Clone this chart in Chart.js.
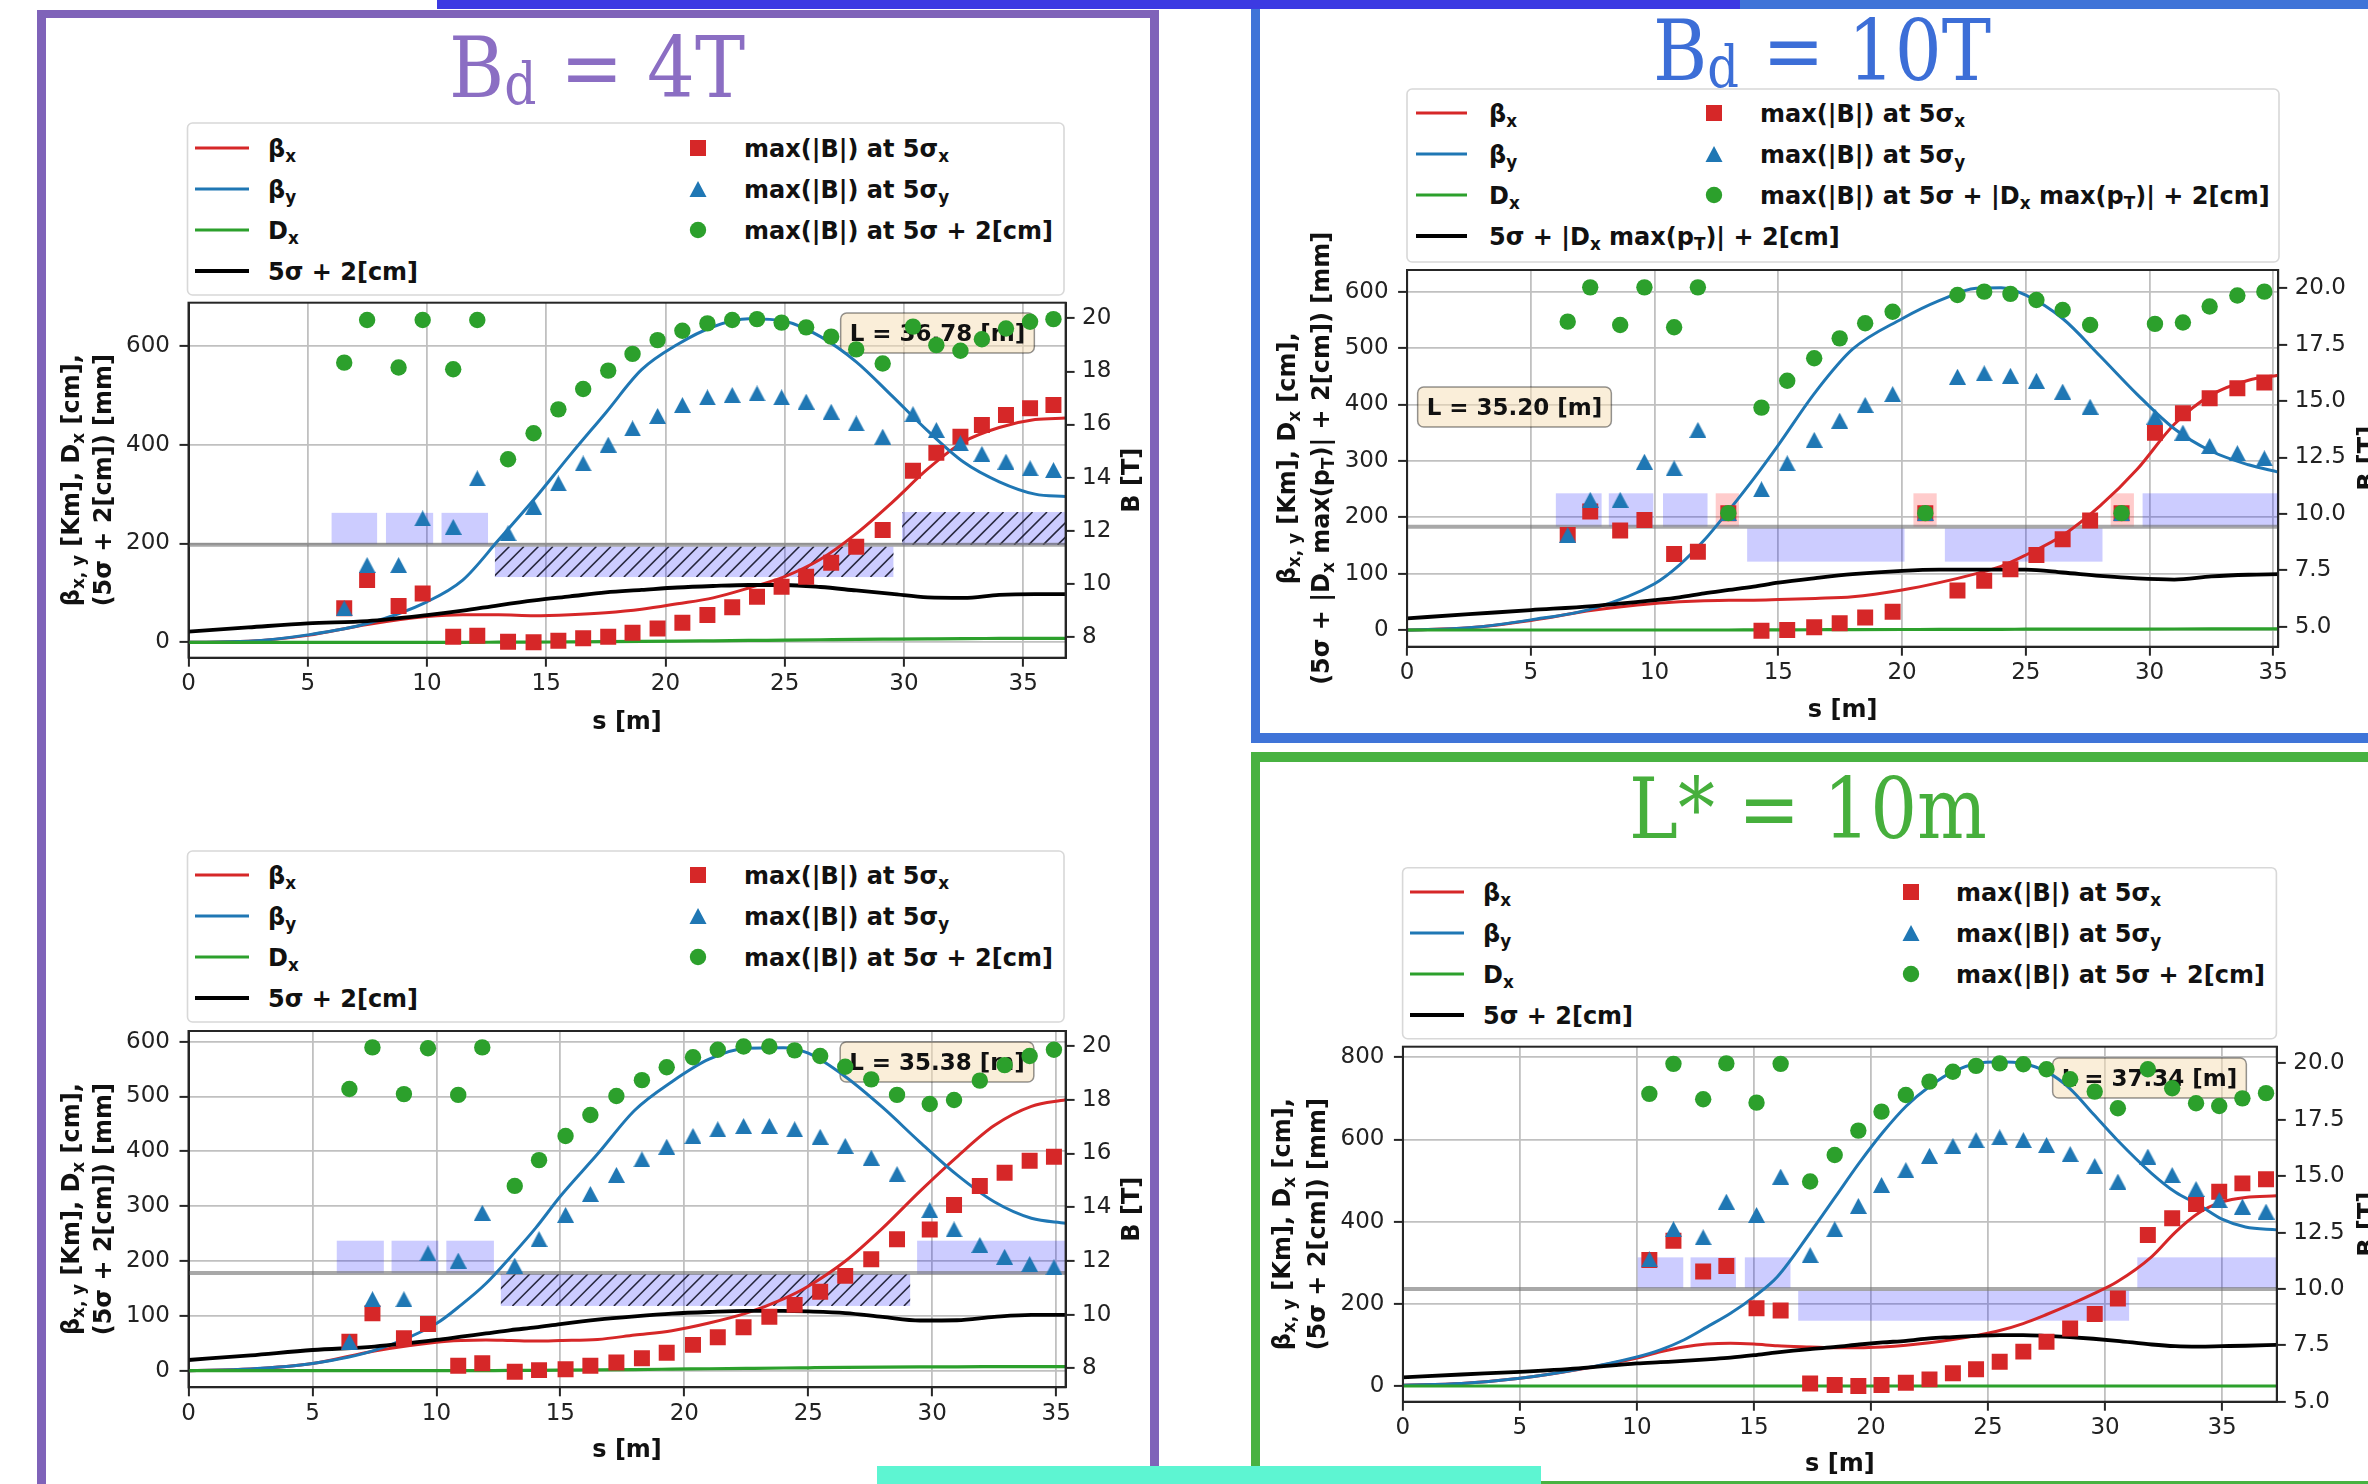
<!DOCTYPE html>
<html><head><meta charset="utf-8">
<script src="https://cdn.jsdelivr.net/npm/chart.js@4.4.1/dist/chart.umd.min.js"></script>
<style>
html,body{margin:0;padding:0;background:#fff;width:2368px;height:1484px;overflow:hidden;position:relative;}
svg{position:absolute;left:0;top:0;}
canvas{position:absolute;}
</style></head><body>
<svg id="deco" width="2368" height="1484" xmlns="http://www.w3.org/2000/svg"></svg>
<script>
// ================= DATA =================
// ---- Panel A : B_d = 4T (top-left) ----
const A_len = 36.78;
const A_s     = [0, 2.5, 5, 7.5, 10, 11.5, 13, 14.5, 16, 17.5, 19, 20.5, 22, 23.5, 25, 26.5, 28, 29.5, 31, 32.5, 34, 35.5, 36.78];
const A_betaX = [0, 2, 14, 36, 52, 56, 56, 54, 56, 60, 67, 78, 90, 110, 133, 168, 220, 283, 351, 406, 435, 451, 454];
const A_betaY = [0, 2, 15, 38, 82, 126, 207, 290, 379, 465, 552, 603, 639, 655, 650, 619, 568, 499, 428, 365, 325, 300, 295];
const A_Dx    = [0, 0, 0, 0, 0, 0, 0.2, 0.5, 0.8, 1.2, 1.7, 2.3, 3, 3.7, 4.4, 5.1, 5.8, 6.4, 7, 7.5, 7.8, 8, 8];
const A_env   = [21.5, 30, 38.5, 43, 55, 64, 75, 85, 93, 101, 106, 111, 114, 116, 116, 112, 105, 98, 91, 90, 96, 97.5, 97.5];
const A_magS  = [6.53, 7.49, 8.81, 9.82, 11.10, 12.11, 13.40, 14.47, 15.51, 16.55, 17.60, 18.62, 19.67, 20.71, 21.76, 22.80, 23.84, 24.87, 25.90, 26.95, 28.00, 29.11, 30.38, 31.36, 32.37, 33.27, 34.28, 35.29, 36.27];
const A_B5sx  = [9.07, 10.14, 9.16, 9.63, 8.00, 8.04, 7.81, 7.79, 7.85, 7.94, 8.00, 8.15, 8.31, 8.53, 8.82, 9.11, 9.51, 9.88, 10.26, 10.79, 11.39, 12.02, 14.26, 14.93, 15.54, 15.98, 16.36, 16.61, 16.73];
const A_B5sy  = [9.07, 10.70, 10.70, 12.46, 12.14, 13.97, 11.90, 12.90, 13.78, 14.53, 15.24, 15.85, 16.32, 16.73, 17.02, 17.11, 17.17, 17.02, 16.86, 16.48, 16.04, 15.54, 16.39, 15.79, 15.29, 14.89, 14.60, 14.35, 14.28];
const A_B5s2  = [18.33, 19.94, 18.15, 19.94, 18.08, 19.94, 14.69, 15.67, 16.57, 17.34, 18.03, 18.66, 19.18, 19.53, 19.81, 19.94, 19.97, 19.84, 19.66, 19.31, 18.83, 18.30, 19.69, 18.99, 18.78, 19.21, 19.62, 19.87, 19.97];
const A_boxes = [[6.00,7.91,11.49,12.67,'q'],[8.28,10.26,11.49,12.67,'q'],[10.61,12.56,11.49,12.67,'q'],[12.85,29.56,10.25,11.40,'h'],[29.92,36.78,11.46,12.70,'h']];
const A_Bmax  = 11.47;
const A_xTicks = [0, 5, 10, 15, 20, 25, 30, 35];
const A_yTicks = [0, 200, 400, 600];
const A_bTicks = [8, 10, 12, 14, 16, 18, 20];
const A_yRange = [-31.2, 687.7];
const A_bRange = [7.21, 20.59];

// ---- Panel B : B_d = 10T (top-right) ----
const B_len = 35.20;
const B_s     = [0, 2.5, 5, 7.5, 10, 11, 12, 13, 14, 15, 16.5, 18, 20, 21.5, 23, 24, 25, 26.5, 28, 29.5, 31, 32.5, 34, 35.2];
const B_betaX = [0, 4, 17, 35, 47, 50, 52, 53, 53, 54, 56, 59, 71, 84, 100, 113, 133, 168, 220, 285, 365, 417, 443, 452];
const B_betaY = [0, 4, 18, 38, 82, 115, 159, 212, 268, 328, 422, 498, 552, 584, 606, 607, 594, 552, 486, 418, 357, 317, 293, 280];
const B_Dx    = [0, 0, 0, 0, 0, 0, 0, 0, 0.2, 0.3, 0.5, 0.7, 0.9, 1, 1.2, 1.3, 1.4, 1.5, 1.6, 1.7, 1.8, 1.9, 2, 2];
const B_env   = [20.7, 28, 35.4, 42.5, 53, 58, 65, 71, 77, 84, 92, 99, 105, 107, 107, 107, 107, 102, 96, 91.5, 89.5, 95, 98, 99];
const B_magS  = [6.49, 7.40, 8.61, 9.59, 10.79, 11.75, 12.98, 14.32, 15.36, 16.45, 17.48, 18.51, 19.62, 20.94, 22.24, 23.32, 24.38, 25.43, 26.49, 27.60, 28.87, 30.22, 31.35, 32.43, 33.55, 34.64];
const B_B5sx  = [9.06, 10.10, 9.26, 9.73, 8.22, 8.32, 10.03, 4.82, 4.85, 4.97, 5.15, 5.40, 5.66, 10.03, 6.60, 7.03, 7.54, 8.18, 8.87, 9.70, 10.03, 13.60, 14.46, 15.12, 15.57, 15.82];
const B_B5sy  = [9.06, 10.62, 10.62, 12.31, 12.02, 13.72, 10.03, 11.09, 12.24, 13.28, 14.13, 14.83, 15.31, 10.03, 16.08, 16.23, 16.12, 15.90, 15.42, 14.75, 10.03, 14.31, 13.60, 13.01, 12.69, 12.46];
const B_B5s2  = [18.52, 20.04, 18.37, 20.04, 18.27, 20.04, 10.03, 14.71, 15.90, 16.90, 17.78, 18.45, 18.96, 10.03, 19.70, 19.85, 19.75, 19.48, 19.04, 18.37, 10.03, 18.42, 18.48, 19.19, 19.68, 19.85];
const B_boxes = [[6.01,7.86,9.43,10.91,'q'],[8.15,9.95,9.43,10.91,'q'],[10.34,12.14,9.43,10.91,'q'],[12.47,13.41,9.43,10.91,'p'],[13.74,20.10,7.88,9.36,'q'],[20.46,21.40,9.43,10.91,'p'],[21.73,28.10,7.88,9.36,'q'],[28.43,29.37,9.43,10.91,'p'],[29.72,35.20,9.43,10.91,'q']];
const B_Bmax  = 9.43;
const B_xTicks = [0, 5, 10, 15, 20, 25, 30, 35];
const B_yTicks = [0, 100, 200, 300, 400, 500, 600];
const B_bTicks = [5.0, 7.5, 10.0, 12.5, 15.0, 17.5, 20.0];
const B_yRange = [-29.6, 638.5];
const B_bRange = [4.11, 20.81];

// ---- Panel C : B_d = 4T (bottom-left) ----
const C_len = 35.38;
const C_s     = [0, 2.5, 5, 7.5, 10, 11, 12, 13, 14, 15, 16.5, 18, 19.5, 21, 22.5, 24, 25, 26.5, 28, 29.5, 31, 32.5, 34, 35.38];
const C_betaX = [0, 3, 13, 36, 52, 55, 56, 55, 54, 55, 57, 65, 73, 87, 105, 131, 154, 200, 260, 327, 390, 447, 482, 494];
const C_betaY = [0, 3, 13, 37, 86, 120, 159, 208, 260, 318, 395, 475, 527, 568, 588, 589, 579, 536, 480, 417, 357, 308, 278, 269];
const C_Dx    = [0, 0, 0, 0, 0, 0, 0.2, 0.4, 0.7, 1, 1.5, 2.1, 2.8, 3.5, 4.2, 4.9, 5.3, 5.9, 6.4, 6.8, 7.1, 7.3, 7.4, 7.4];
const C_env   = [19.5, 28, 37.7, 44, 56, 62, 68, 74, 79, 85, 93, 99, 104, 107, 109, 109, 108, 105, 98, 91.5, 92, 98, 101.7, 101.7];
const C_magS  = [6.49, 7.42, 8.69, 9.66, 10.88, 11.85, 13.16, 14.14, 15.21, 16.21, 17.26, 18.29, 19.29, 20.35, 21.35, 22.39, 23.43, 24.45, 25.48, 26.49, 27.54, 28.58, 29.90, 30.88, 31.92, 32.92, 33.93, 34.91];
const C_B5sx  = [8.99, 10.05, 9.12, 9.65, 8.09, 8.19, 7.87, 7.93, 7.96, 8.09, 8.21, 8.37, 8.58, 8.87, 9.15, 9.53, 9.92, 10.36, 10.85, 11.44, 12.06, 12.80, 13.17, 14.08, 14.79, 15.28, 15.73, 15.88];
const C_B5sy  = [8.99, 10.57, 10.57, 12.28, 12.01, 13.79, 11.82, 12.81, 13.71, 14.49, 15.20, 15.78, 16.25, 16.65, 16.90, 17.02, 17.02, 16.90, 16.62, 16.28, 15.84, 15.23, 13.89, 13.17, 12.59, 12.15, 11.88, 11.76];
const C_B5s2  = [18.40, 19.95, 18.21, 19.92, 18.18, 19.95, 14.79, 15.75, 16.65, 17.43, 18.14, 18.73, 19.21, 19.58, 19.86, 19.98, 19.98, 19.84, 19.63, 19.23, 18.76, 18.18, 17.84, 17.99, 18.71, 19.29, 19.63, 19.86];
const C_boxes = [[5.98,7.88,11.54,12.75,'q'],[8.19,10.08,11.54,12.75,'q'],[10.40,12.32,11.54,12.75,'q'],[12.60,29.11,10.32,11.51,'h'],[29.39,35.38,11.51,12.75,'q']];
const C_Bmax  = 11.55;
const C_xTicks = [0, 5, 10, 15, 20, 25, 30, 35];
const C_yTicks = [0, 100, 200, 300, 400, 500, 600];
const C_bTicks = [8, 10, 12, 14, 16, 18, 20];
const C_yRange = [-30.3, 619.5];
const C_bRange = [7.29, 20.56];

// ---- Panel D : L* = 10m (bottom-right) ----
const D_len = 37.34;
const D_s     = [0, 2.5, 5, 7.5, 10, 11, 12, 13, 14, 15, 16, 17.4, 18.5, 19.5, 20.5, 21.5, 22.5, 23.5, 24.5, 25.5, 26.5, 27.5, 28.5, 29.5, 30.5, 32, 33, 34, 35, 36, 37.34];
const D_betaX = [2, 6, 18.6, 40, 68, 83, 95, 102, 104, 102, 98, 95, 93, 93, 95, 99, 105, 113, 123, 135, 152, 174, 198, 224, 253, 315, 374, 421, 448, 459, 463];
const D_betaY = [2, 6, 18.6, 40.6, 71, 88, 112, 144, 177, 217, 266, 373, 462, 543, 617, 681, 729, 765, 785, 789, 785, 765, 724, 662, 600, 517, 472, 441, 406, 387, 380];
const D_Dx    = [0, 0, 0, 0, 0, 0, 0, 0, 0, 0, 0, 0, 0, 0, 0, 0, 0, 0, 0, 0, 0, 0, 0, 0, 0, 0, 0, 0, 0, 0, 0];
const D_env   = [21, 28, 34.6, 43, 55, 58, 61, 65, 69, 75, 82, 90, 95, 101, 106, 110, 116, 119, 122, 124, 124, 122, 119, 115, 110, 101, 97, 96, 97, 98, 100];
const D_magS  = [10.53, 11.56, 12.83, 13.82, 15.11, 16.14, 17.40, 18.45, 19.46, 20.45, 21.49, 22.50, 23.50, 24.49, 25.50, 26.51, 27.50, 28.51, 29.56, 30.55, 31.83, 32.87, 33.89, 34.88, 35.87, 36.88];
const D_B5sx  = [11.28, 12.14, 10.77, 11.02, 9.14, 9.04, 5.81, 5.74, 5.70, 5.74, 5.84, 5.99, 6.26, 6.44, 6.77, 7.22, 7.66, 8.25, 8.89, 9.58, 12.39, 13.13, 13.77, 14.31, 14.68, 14.86];
const D_B5sy  = [11.31, 12.65, 12.29, 13.87, 13.28, 14.98, 11.50, 12.65, 13.68, 14.61, 15.27, 15.90, 16.34, 16.60, 16.72, 16.60, 16.38, 15.98, 15.45, 14.76, 15.87, 15.05, 14.43, 13.94, 13.65, 13.43];
const D_B5s2  = [18.65, 19.98, 18.41, 20.00, 18.26, 19.98, 14.76, 15.94, 17.02, 17.86, 18.60, 19.19, 19.63, 19.89, 20.00, 19.96, 19.74, 19.30, 18.75, 18.01, 19.74, 18.90, 18.23, 18.11, 18.45, 18.68];
const D_boxes = [[10.03,11.98,10.03,11.40,'q'],[12.29,14.23,10.03,11.40,'q'],[14.61,16.56,10.03,11.40,'q'],[16.89,31.03,8.59,9.92,'q'],[31.38,37.34,10.03,11.40,'q']];
const D_Bmax  = 10.0;
const D_xTicks = [0, 5, 10, 15, 20, 25, 30, 35];
const D_yTicks = [0, 200, 400, 600, 800];
const D_bTicks = [5.0, 7.5, 10.0, 12.5, 15.0, 17.5, 20.0];
const D_yRange = [-38.2, 825.8];
const D_bRange = [5.0, 20.74];

// ================= TEXTS =================
const TITLE_A = 'B_{d} = 4T', TITLE_B = 'B_{d} = 10T', TITLE_D = 'L* = 10m';
const YT_STD = ['β_{x, y} [Km], D_{x} [cm],', '(5σ + 2[cm]) [mm]'];
const YT_B   = ['β_{x, y} [Km], D_{x} [cm],', '(5σ + |D_{x} max(p_{T})| + 2[cm]) [mm]'];
const LEG_LEFT_STD  = ['β_{x}', 'β_{y}', 'D_{x}', '5σ + 2[cm]'];
const LEG_RIGHT_STD = ['max(|B|) at 5σ_{x}', 'max(|B|) at 5σ_{y}', 'max(|B|) at 5σ + 2[cm]'];
const LEG_LEFT_B    = ['β_{x}', 'β_{y}', 'D_{x}', '5σ + |D_{x} max(p_{T})| + 2[cm]'];
const LEG_RIGHT_B   = ['max(|B|) at 5σ_{x}', 'max(|B|) at 5σ_{y}', 'max(|B|) at 5σ + |D_{x} max(p_{T})| + 2[cm]'];

// ================= STYLE / LAYOUT =================
const COL = {bx:'#d62728', by:'#1f77b4', dx:'#2ca02c', env:'#000000'};
const LW  = {bx:3.0, by:3.0, dx:3.2, env:3.8};
const LAYOUT = {
  A:{canvas:[46,270,1104,466],  plot:[188.5,302.7,1065.6,657.7], ytx:[70,102],    rtx:1130, xty:720,  lbox:[937.5,333]},
  B:{canvas:[1260,200,1108,530],plot:[1407.1,270,2278.2,646.7],  ytx:[1286,1320], rtx:2366, xty:708,  lbox:[1514.5,407]},
  C:{canvas:[46,1000,1104,484], plot:[188.5,1031,1065.6,1387.3], ytx:[70,102],    rtx:1130, xty:1448, lbox:[937,1062]},
  D:{canvas:[1260,1020,1108,464],plot:[1402.9,1046.7,2276.8,1401.7],ytx:[1281,1316],rtx:2366, xty:1462, lbox:[2149.5,1078]}
};
const LEGL = {
  A:{box:[187.5,123,876.5,172], rows:[148,189,230,271], h:[195,249], tx:268, mx:698, tx2:744},
  B:{box:[1407,89,872,173],     rows:[113,154,195,236], h:[1416,1467], tx:1489, mx:1714, tx2:1760},
  C:{box:[187.5,851,876.5,171], rows:[875,916,957,998], h:[195,249], tx:268, mx:698, tx2:744},
  D:{box:[1402.6,867.7,873.8,171], rows:[892,933,974,1015], h:[1410,1464], tx:1483, mx:1911, tx2:1956}
};

// ================= HELPERS =================
function parseRich(str){
  const out=[]; let buf=''; let i=0;
  while(i<str.length){
    if((str[i]==='_'||str[i]==='^') && str[i+1]==='{'){
      if(buf){out.push({t:buf,sub:0});buf='';}
      const j=str.indexOf('}',i);
      out.push({t:str.slice(i+2,j),sub:str[i]==='_'?1:-1});
      i=j+1;
    } else {buf+=str[i];i++;}
  }
  if(buf) out.push({t:buf,sub:0});
  return out;
}
function esc(s){return s.replace(/&/g,'&amp;').replace(/</g,'&lt;').replace(/>/g,'&gt;');}
function richSVG(str,x,y,size,attrs){
  const segs=parseRich(str);
  let o=`<text x="${x}" y="${y}" font-size="${size}" style="white-space:pre" ${attrs}>`;
  let shift=0;
  for(const s of segs){
    const target = s.sub===1 ? +(size*0.22).toFixed(2) : 0;
    const dy = +(target-shift).toFixed(2); shift=target;
    o+=`<tspan dy="${dy}"${s.sub?` font-size="${(size*0.7).toFixed(1)}"`:''}>${esc(s.t)}</tspan>`;
  }
  return o+'</text>';
}
function drawRich(ctx,str,cx,cy,size,rot){
  const segs=parseRich(str);
  const fm=`bold ${size}px "DejaVu Sans"`, fs=`bold ${(size*0.7).toFixed(1)}px "DejaVu Sans"`;
  let total=0;
  for(const s of segs){ctx.font=s.sub?fs:fm; s.w=ctx.measureText(s.t).width; total+=s.w;}
  ctx.save(); ctx.translate(cx,cy); ctx.rotate(rot);
  ctx.textAlign='left'; ctx.textBaseline='alphabetic'; ctx.fillStyle='#111';
  let x=-total/2; const base=size*0.36;
  for(const s of segs){ctx.font=s.sub?fs:fm; ctx.fillText(s.t,x,base+(s.sub?size*0.22:0)); x+=s.w;}
  ctx.restore();
}

// ================= SVG DECORATION =================
(function(){
  let s='';
  const purple='#7f63b9', blue='#3f74d8', green='#48b241';
  s+=`<rect x="37" y="10" width="9" height="1480" fill="${purple}"/>`;
  s+=`<rect x="1150" y="10" width="9" height="1480" fill="${purple}"/>`;
  s+=`<rect x="37" y="10" width="1122" height="8" fill="${purple}"/>`;
  s+=`<rect x="1251" y="0" width="1117" height="9" fill="${blue}"/>`;
  s+=`<rect x="1251" y="0" width="9" height="743" fill="${blue}"/>`;
  s+=`<rect x="1251" y="733" width="1117" height="10" fill="${blue}"/>`;
  s+=`<rect x="437" y="0" width="1303" height="9" fill="#3c3ae2"/>`;
  s+=`<rect x="1251" y="752" width="1117" height="10" fill="${green}"/>`;
  s+=`<rect x="1251" y="752" width="9" height="732" fill="${green}"/>`;
  s+=`<rect x="1251" y="1481" width="1117" height="3" fill="${green}"/>`;
  // titles
  const tt=(str,x,y,len,col)=>{
    const segs=parseRich(str); let o=`<text x="${x}" y="${y}" text-anchor="middle" font-family="DejaVu Serif" font-size="85" fill="${col}" textLength="${len}" lengthAdjust="spacingAndGlyphs" style="white-space:pre">`;
    let sh=0; for(const g of segs){const tg=g.sub?7:0; o+=`<tspan dy="${tg-sh}"${g.sub?' font-size="57"':''}>${esc(g.t)}</tspan>`; sh=tg;}
    return o+'</text>';
  };
  s+=tt(TITLE_A,597,97,296,'#8b6ec3');
  s+=tt(TITLE_B,1822,80,338,'#3c6ed7');
  s+=tt(TITLE_D,1808,838,358,'#46af3c');
  // legends
  const legend=(L,left,right)=>{
    let o='';
    const [bx,by,bw,bh]=L.box;
    o+=`<rect x="${bx}" y="${by}" width="${bw}" height="${bh}" rx="5" fill="#fff" stroke="#d8d8d8" stroke-width="1.6"/>`;
    const lc=[COL.bx,COL.by,COL.dx,COL.env], lw=[LW.bx,LW.by,LW.dx,LW.env];
    const ta='font-family="DejaVu Sans" font-weight="bold" fill="#111"';
    left.forEach((t,i)=>{
      const y=L.rows[i];
      o+=`<line x1="${L.h[0]}" y1="${y}" x2="${L.h[1]}" y2="${y}" stroke="${lc[i]}" stroke-width="${lw[i]}"/>`;
      o+=richSVG(t,L.tx,y+8.5,24,ta);
    });
    right.forEach((t,i)=>{
      const y=L.rows[i], m=L.mx;
      if(i===0) o+=`<rect x="${m-8}" y="${y-8}" width="16" height="16" fill="${COL.bx}"/>`;
      if(i===1) o+=`<polygon points="${m-8.5},${y+8} ${m},${y-8} ${m+8.5},${y+8}" fill="${COL.by}"/>`;
      if(i===2) o+=`<circle cx="${m}" cy="${y}" r="8.2" fill="${COL.dx}"/>`;
      o+=richSVG(t,L.tx2,y+8.5,24,ta);
    });
    return o;
  };
  s+=legend(LEGL.A,LEG_LEFT_STD,LEG_RIGHT_STD);
  s+=legend(LEGL.B,LEG_LEFT_B,LEG_RIGHT_B);
  s+=legend(LEGL.C,LEG_LEFT_STD,LEG_RIGHT_STD);
  s+=legend(LEGL.D,LEG_LEFT_STD,LEG_RIGHT_STD);
  s+=`<rect x="877" y="1466" width="664" height="18" fill="#5df5d2"/>`;
  document.getElementById('deco').innerHTML=s;
})();

// ================= CHARTS =================
Chart.defaults.font.family='"DejaVu Sans", sans-serif';
const triImg=(()=>{const c=document.createElement('canvas');c.width=17;c.height=16;const g=c.getContext('2d');g.fillStyle=COL.by;g.beginPath();g.moveTo(0,16);g.lineTo(8.5,0);g.lineTo(17,16);g.closePath();g.fill();return c;})();

function buildChart(key,D,Lo){
  const [cx,cy,cw,ch]=Lo.canvas, [pl,pt,pr,pb]=Lo.plot;
  const cv=document.createElement('canvas');
  cv.width=cw; cv.height=ch;
  Object.assign(cv.style,{left:cx+'px',top:cy+'px',width:cw+'px',height:ch+'px'});
  document.body.appendChild(cv);
  const pts=(xs,ys)=>xs.map((x,i)=>({x,y:ys[i]}));
  const lineDs=(ys,c,w,order,label)=>({label,data:pts(D.s,ys),borderColor:c,backgroundColor:c,borderWidth:w,pointRadius:0,fill:false,cubicInterpolationMode:'monotone',yAxisID:'y',order});
  const markDs=(ys,style,c,r,order,label)=>({label,showLine:false,data:pts(D.magS,ys),pointStyle:style,pointRadius:r,pointHoverRadius:r,pointBackgroundColor:c,pointBorderColor:c,pointBorderWidth:0,yAxisID:'y2',order,clip:0});
  const datasets=[
    {label:'Bmax',data:[{x:0,y:D.Bmax},{x:D.len,y:D.Bmax}],borderColor:'rgba(115,115,115,0.62)',borderWidth:4,pointRadius:0,yAxisID:'y2',order:30},
    lineDs(D.betaX,COL.bx,LW.bx,14,'βx'),
    lineDs(D.betaY,COL.by,LW.by,13,'βy'),
    lineDs(D.Dx,COL.dx,LW.dx,12,'Dx'),
    lineDs(D.env,COL.env,LW.env,11,'env'),
    markDs(D.B5sx,'rect',COL.bx,11.3,3,'5σx'),
    markDs(D.B5sy,triImg,COL.by,9,2,'5σy'),
    markDs(D.B5s2,'circle',COL.dx,8.2,1,'5σ2'),
  ];
  const tickFont={family:'DejaVu Sans',size:23};
  const grid={color:'#c0c0c0',lineWidth:1.8,drawTicks:true,tickLength:9,tickColor:'#262626',tickWidth:2};
  const border={display:true,color:'#262626',width:2};
  const deco={
    id:'deco'+key,
    beforeDatasetsDraw(chart){
      const {ctx,chartArea:a,scales:{x,y2}}=chart;
      ctx.save();
      ctx.beginPath(); ctx.rect(a.left,a.top,a.right-a.left,a.bottom-a.top); ctx.clip();
      for(const [s0,s1,b0,b1,k] of D.boxes){
        const X0=x.getPixelForValue(s0), X1=x.getPixelForValue(s1);
        const Y0=y2.getPixelForValue(b1), Y1=y2.getPixelForValue(b0);
        ctx.fillStyle=k==='p'?'rgba(255,0,0,0.2)':'rgba(0,0,255,0.2)';
        ctx.fillRect(X0,Y0,X1-X0,Y1-Y0);
        if(k==='h'){
          ctx.save(); ctx.beginPath(); ctx.rect(X0,Y0,X1-X0,Y1-Y0); ctx.clip();
          ctx.strokeStyle='rgba(20,20,40,0.9)'; ctx.lineWidth=1.6;
          const sp=14.5, h=Y1-Y0;
          for(let xx=X0-h; xx<X1+sp; xx+=sp){ctx.beginPath();ctx.moveTo(xx,Y1);ctx.lineTo(xx+h,Y0);ctx.stroke();}
          ctx.restore();
        }
      }
      ctx.restore();
      // L annotation box
      ctx.save();
      ctx.font='bold 23px "DejaVu Sans"';
      const tw=ctx.measureText(D.Ltext).width, bw=tw+18, bh=40;
      const lx=Lo.lbox[0]-cx, ly=Lo.lbox[1]-cy;
      ctx.beginPath(); ctx.roundRect(lx-bw/2,ly-bh/2,bw,bh,6);
      ctx.fillStyle='rgba(245,222,179,0.5)'; ctx.fill();
      ctx.strokeStyle='rgba(0,0,0,0.42)'; ctx.lineWidth=1.5; ctx.stroke();
      ctx.fillStyle='#111'; ctx.textAlign='center'; ctx.textBaseline='alphabetic';
      ctx.fillText(D.Ltext,lx,ly+8.3);
      ctx.restore();
    },
    afterDatasetsDraw(chart){
      const {ctx,chartArea:a}=chart;
      ctx.save(); ctx.strokeStyle='#262626'; ctx.lineWidth=2;
      ctx.strokeRect(a.left,a.top,a.right-a.left,a.bottom-a.top); ctx.restore();
    },
    afterDraw(chart){
      const ctx=chart.ctx;
      const midY=(pt+pb)/2-cy, midX=(pl+pr)/2-cx;
      drawRich(ctx,D.yTitle[0],Lo.ytx[0]-cx,midY,24,-Math.PI/2);
      drawRich(ctx,D.yTitle[1],Lo.ytx[1]-cx,midY,24,-Math.PI/2);
      drawRich(ctx,'B [T]',Lo.rtx-cx,midY,24,-Math.PI/2);
      drawRich(ctx,'s [m]',midX,Lo.xty-cy,24,0);
    }
  };
  return new Chart(cv,{
    type:'line',
    data:{datasets},
    options:{
      responsive:false, animation:false, devicePixelRatio:1, events:[],
      layout:{padding:{left:0,right:0,top:pt-cy,bottom:0},autoPadding:false},
      plugins:{legend:{display:false},tooltip:{enabled:false},title:{display:false}},
      scales:{
        x:{type:'linear',position:'bottom',min:0,max:D.len,
          afterBuildTicks:sc=>{sc.ticks=D.xTicks.map(v=>({value:v}));},
          afterFit:sc=>{sc.height=(cy+ch)-pb;},
          ticks:{font:tickFont,color:'#222',padding:4,maxRotation:0,minRotation:0,autoSkip:false,callback:v=>String(v)},
          grid, border},
        y:{type:'linear',axis:'y',position:'left',min:D.yRange[0],max:D.yRange[1],
          afterBuildTicks:sc=>{sc.ticks=D.yTicks.map(v=>({value:v}));},
          afterFit:sc=>{sc.width=pl-cx;},
          ticks:{font:tickFont,color:'#222',padding:9.5,autoSkip:false,callback:v=>String(v)},
          grid, border},
        y2:{type:'linear',axis:'y',position:'right',min:D.bRange[0],max:D.bRange[1],
          afterBuildTicks:sc=>{sc.ticks=D.bTicks.map(v=>({value:v}));},
          afterFit:sc=>{sc.width=(cx+cw)-pr;},
          ticks:{font:tickFont,color:'#222',padding:7.5,autoSkip:false,callback:v=>v.toFixed(D.bDec)},
          grid:{...grid,drawOnChartArea:false}, border}
      }
    },
    plugins:[deco]
  });
}

buildChart('A',{len:A_len,s:A_s,betaX:A_betaX,betaY:A_betaY,Dx:A_Dx,env:A_env,magS:A_magS,B5sx:A_B5sx,B5sy:A_B5sy,B5s2:A_B5s2,boxes:A_boxes,Bmax:A_Bmax,xTicks:A_xTicks,yTicks:A_yTicks,bTicks:A_bTicks,yRange:A_yRange,bRange:A_bRange,bDec:0,Ltext:'L = 36.78 [m]',yTitle:YT_STD},LAYOUT.A);
buildChart('B',{len:B_len,s:B_s,betaX:B_betaX,betaY:B_betaY,Dx:B_Dx,env:B_env,magS:B_magS,B5sx:B_B5sx,B5sy:B_B5sy,B5s2:B_B5s2,boxes:B_boxes,Bmax:B_Bmax,xTicks:B_xTicks,yTicks:B_yTicks,bTicks:B_bTicks,yRange:B_yRange,bRange:B_bRange,bDec:1,Ltext:'L = 35.20 [m]',yTitle:YT_B},LAYOUT.B);
buildChart('C',{len:C_len,s:C_s,betaX:C_betaX,betaY:C_betaY,Dx:C_Dx,env:C_env,magS:C_magS,B5sx:C_B5sx,B5sy:C_B5sy,B5s2:C_B5s2,boxes:C_boxes,Bmax:C_Bmax,xTicks:C_xTicks,yTicks:C_yTicks,bTicks:C_bTicks,yRange:C_yRange,bRange:C_bRange,bDec:0,Ltext:'L = 35.38 [m]',yTitle:YT_STD},LAYOUT.C);
buildChart('D',{len:D_len,s:D_s,betaX:D_betaX,betaY:D_betaY,Dx:D_Dx,env:D_env,magS:D_magS,B5sx:D_B5sx,B5sy:D_B5sy,B5s2:D_B5s2,boxes:D_boxes,Bmax:D_Bmax,xTicks:D_xTicks,yTicks:D_yTicks,bTicks:D_bTicks,yRange:D_yRange,bRange:D_bRange,bDec:1,Ltext:'L = 37.34 [m]',yTitle:YT_STD},LAYOUT.D);
</script>
</body></html>
